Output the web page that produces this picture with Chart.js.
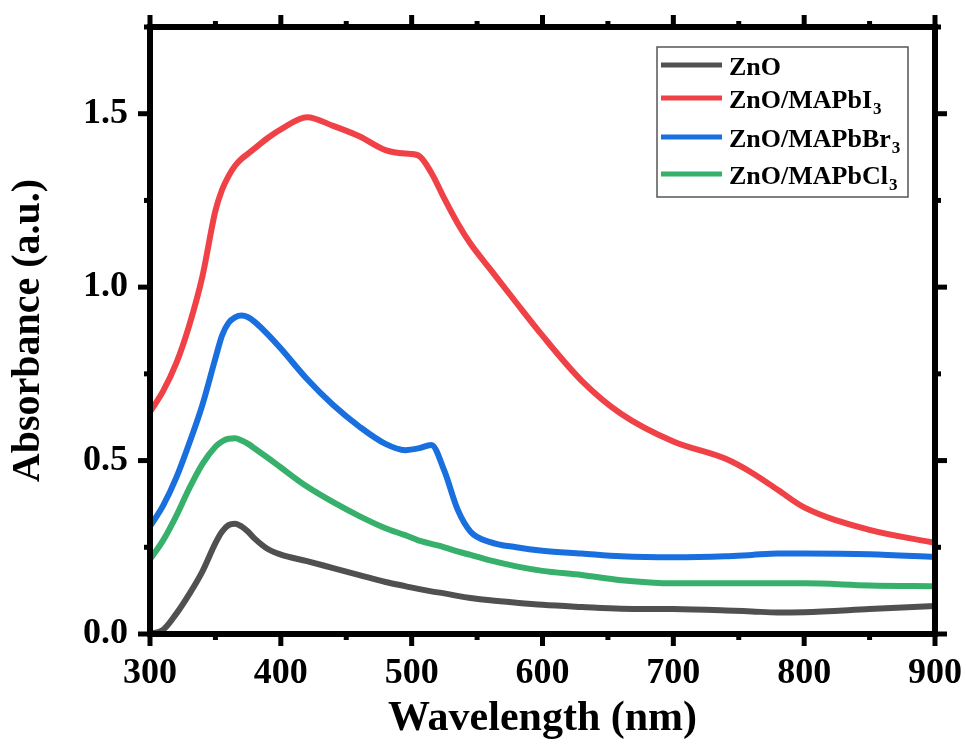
<!DOCTYPE html>
<html>
<head>
<meta charset="utf-8">
<title>Absorbance</title>
<script src="https://cdn.jsdelivr.net/npm/chart.js@4.4.0/dist/chart.umd.min.js"></script>
<style>
    html, body { margin: 0; padding: 0; background: #fff; }
    #wrap { width: 966px; height: 751px; }
</style>
</head>
<body>
<div id="wrap"><canvas id="absChart" width="966" height="751"></canvas></div>
<script>
// Data
const wavelengths = [300, 310, 320, 330, 340, 350, 355, 360, 365, 370, 375, 380, 390, 400, 420, 440, 460, 480, 495, 505, 515, 525, 535, 545, 560, 580, 600, 630, 660, 700, 740, 760, 780, 800, 850, 900];

const znoAbs = [0.0, 0.012, 0.058, 0.115, 0.18, 0.262, 0.295, 0.314, 0.318, 0.31, 0.295, 0.275, 0.245, 0.229, 0.21, 0.19, 0.17, 0.15, 0.138, 0.13, 0.123, 0.117, 0.11, 0.104, 0.097, 0.09, 0.084, 0.078, 0.073, 0.072, 0.068, 0.065, 0.062, 0.063, 0.072, 0.081];
const iodideAbs = [0.64, 0.70, 0.78, 0.89, 1.03, 1.22, 1.28, 1.32, 1.35, 1.37, 1.385, 1.40, 1.43, 1.455, 1.49, 1.465, 1.435, 1.395, 1.385, 1.38, 1.33, 1.255, 1.185, 1.125, 1.052, 0.955, 0.86, 0.73, 0.635, 0.555, 0.505, 0.465, 0.415, 0.365, 0.30, 0.263];
const bromideAbs = [0.31, 0.37, 0.45, 0.55, 0.66, 0.795, 0.86, 0.897, 0.913, 0.918, 0.913, 0.9, 0.864, 0.823, 0.735, 0.66, 0.598, 0.548, 0.53, 0.535, 0.545, 0.47, 0.36, 0.295, 0.265, 0.25, 0.24, 0.232, 0.224, 0.221, 0.224, 0.228, 0.232, 0.232, 0.23, 0.222];
const chlorideAbs = [0.215, 0.27, 0.34, 0.42, 0.49, 0.54, 0.555, 0.563, 0.564, 0.558, 0.548, 0.535, 0.508, 0.48, 0.425, 0.38, 0.34, 0.305, 0.285, 0.27, 0.26, 0.25, 0.238, 0.228, 0.212, 0.195, 0.182, 0.17, 0.155, 0.146, 0.146, 0.146, 0.146, 0.146, 0.14, 0.138];

const seriesNames = ['ZnO', 'ZnO/MAPbI3', 'ZnO/MAPbBr3', 'ZnO/MAPbCl3'];
const seriesColors = ['#505050', '#ef4146', '#1a6fde', '#36b06b'];

const xTicks = [300, 400, 500, 600, 700, 800, 900];
const yTicks = [0.0, 0.5, 1.0, 1.5];

const serif = "'Liberation Serif', 'Times New Roman', serif";

function toPoints(values) {
    return wavelengths.map((w, i) => ({ x: w, y: values[i] }));
}

// Box frame with outward ticks on all four sides
const frameTicks = {
    id: 'frameTicks',
    afterDatasetsDraw(chart) {
        const { ctx, chartArea: a, scales: { x, y } } = chart;
        ctx.save();
        ctx.strokeStyle = '#000';
        ctx.lineWidth = 6;
        ctx.strokeRect(a.left, a.top, a.right - a.left, a.bottom - a.top);

        ctx.lineWidth = 5;
        const line = (x1, y1, x2, y2) => {
            ctx.beginPath();
            ctx.moveTo(x1, y1);
            ctx.lineTo(x2, y2);
            ctx.stroke();
        };

        const xMinor = xTicks.slice(1).map((t, i) => (t + xTicks[i]) / 2);
        const yMinor = yTicks.map(t => t + 0.25);

        xTicks.forEach(t => {
            const px = x.getPixelForValue(t);
            line(px, a.bottom, px, a.bottom + 12);
            line(px, a.top, px, a.top - 12);
        });
        xMinor.forEach(t => {
            const px = x.getPixelForValue(t);
            line(px, a.bottom, px, a.bottom + 6);
            line(px, a.top, px, a.top - 6);
        });
        yTicks.forEach(t => {
            const py = y.getPixelForValue(t);
            line(a.left, py, a.left - 12, py);
            line(a.right, py, a.right + 12, py);
        });
        yMinor.forEach(t => {
            const py = y.getPixelForValue(t);
            line(a.left, py, a.left - 6, py);
            line(a.right, py, a.right + 6, py);
        });
        ctx.restore();
    }
};

// Legend with subscript numbers
const subLegend = {
    id: 'subLegend',
    afterDraw(chart) {
        const { ctx } = chart;
        const box = { left: 657, top: 47, width: 251, height: 150 };
        const rows = [65, 98, 137, 174];
        ctx.save();
        ctx.fillStyle = '#fff';
        ctx.fillRect(box.left, box.top, box.width, box.height);
        ctx.strokeStyle = '#555';
        ctx.lineWidth = 1.5;
        ctx.strokeRect(box.left, box.top, box.width, box.height);

        chart.data.datasets.forEach((ds, i) => {
            const ry = rows[i];
            ctx.strokeStyle = ds.borderColor;
            ctx.lineWidth = 5;
            ctx.beginPath();
            ctx.moveTo(661, ry);
            ctx.lineTo(722, ry);
            ctx.stroke();

            const m = ds.label.match(/^(.*?)(\d)$/);
            const main = m ? m[1] : ds.label;
            ctx.fillStyle = '#000';
            ctx.textBaseline = 'alphabetic';
            ctx.font = `bold 26px ${serif}`;
            ctx.fillText(main, 729, ry + 10);
            if (m) {
                const w = ctx.measureText(main).width;
                ctx.font = `bold 17px ${serif}`;
                ctx.fillText(m[2], 729 + w + 1, ry + 16);
            }
        });
        ctx.restore();
    }
};

const ctx = document.getElementById('absChart').getContext('2d');
new Chart(ctx, {
    type: 'line',
    data: {
        datasets: [znoAbs, iodideAbs, bromideAbs, chlorideAbs].map((vals, i) => ({
            label: seriesNames[i],
            data: toPoints(vals),
            borderColor: seriesColors[i],
            backgroundColor: seriesColors[i],
            borderWidth: 6,
            pointRadius: 0,
            cubicInterpolationMode: 'monotone',
            fill: false
        }))
    },
    options: {
        responsive: false,
        animation: false,
        layout: {
            padding: { left: 0, top: 27, right: 31, bottom: 0 }
        },
        plugins: {
            legend: { display: false },
            tooltip: { enabled: false }
        },
        scales: {
            x: {
                type: 'linear',
                min: 300,
                max: 900,
                grid: { display: false, drawTicks: false },
                border: { display: false },
                afterBuildTicks: scale => { scale.ticks = xTicks.map(v => ({ value: v })); },
                afterFit: scale => {
                    scale.height = 117;
                    scale.paddingLeft = 0;
                    scale.paddingRight = 0;
                },
                ticks: {
                    padding: 18,
                    color: '#000',
                    maxRotation: 0,
                    font: { family: serif, size: 36, weight: 'bold' }
                },
                title: {
                    display: true,
                    text: 'Wavelength (nm)',
                    color: '#000',
                    padding: { top: 0, bottom: 7 },
                    font: { family: serif, size: 42, weight: 'bold' }
                }
            },
            y: {
                min: 0,
                max: 1.75,
                grid: { display: false, drawTicks: false },
                border: { display: false },
                afterBuildTicks: scale => { scale.ticks = yTicks.map(v => ({ value: v })); },
                afterFit: scale => {
                    scale.width = 150;
                    scale.paddingTop = 0;
                    scale.paddingBottom = 0;
                },
                ticks: {
                    padding: 22,
                    color: '#000',
                    font: { family: serif, size: 36, weight: 'bold' },
                    callback: v => v.toFixed(1)
                },
                title: {
                    display: true,
                    text: 'Absorbance (a.u.)',
                    color: '#000',
                    padding: { top: 5, bottom: 0 },
                    font: { family: serif, size: 40, weight: 'bold' }
                }
            }
        }
    },
    plugins: [frameTicks, subLegend]
});
</script>
</body>
</html>
